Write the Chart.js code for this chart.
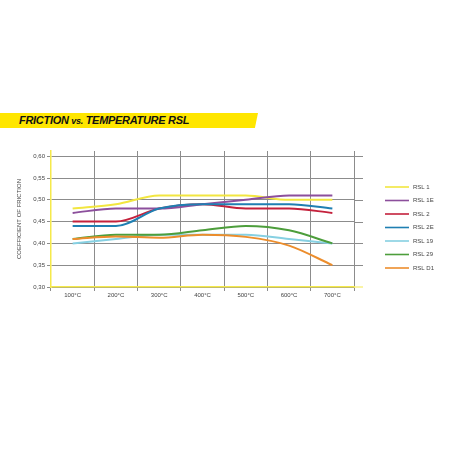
<!DOCTYPE html>
<html>
<head>
<meta charset="utf-8">
<script src="https://cdn.jsdelivr.net/npm/chart.js@4/dist/chart.umd.min.js"></script>
<style>
  html, body { margin: 0; padding: 0; background: #fff; }
  #wrap { position: relative; width: 452px; height: 452px; overflow: hidden; }
  #banner {
    position: absolute; left: 0; top: 113px; width: 258px; height: 15px;
    background: #ffe600;
    clip-path: polygon(0 0, 100% 0, 98.8% 100%, 0 100%);
  }
  #banner span {
    position: absolute; left: 19px; top: 1px;
    font-family: "Liberation Sans", Arial, sans-serif; font-weight: bold; font-style: italic;
    font-size: 11px; color: #111; letter-spacing: -0.3px; white-space: nowrap;
  }
  #banner small { font-size: 9px; }
  canvas { position: absolute; left: 0; top: 0; }
</style>
</head>
<body>
<div id="wrap">
  <div id="banner"><span>FRICTION <small>vs.</small> TEMPERATURE RSL</span></div>
  <canvas id="friction-chart" width="452" height="452"></canvas>
</div>
<script>
// temperatures (x axis)
const temps = ['100°C', '200°C', '300°C', '400°C', '500°C', '600°C', '700°C'];

// coefficient of friction per compound
const rsl1  = [0.48, 0.49, 0.51, 0.51, 0.51, 0.50, 0.50];
const rsl1e = [0.47, 0.48, 0.48, 0.49, 0.50, 0.51, 0.51];
const rsl2  = [0.45, 0.45, 0.48, 0.49, 0.48, 0.48, 0.47];
const rsl2e = [0.44, 0.44, 0.48, 0.49, 0.49, 0.49, 0.48];
const rsl19 = [0.40, 0.41, 0.42, 0.42, 0.42, 0.41, 0.40];
const rsl29 = [0.41, 0.42, 0.42, 0.43, 0.44, 0.43, 0.40];
const rslD1 = [0.41, 0.416, 0.413, 0.42, 0.415, 0.395, 0.35];

const seriesNames = ['RSL 1', 'RSL 1E', 'RSL 2', 'RSL 2E', 'RSL 19', 'RSL 29', 'RSL D1'];
const seriesColors = ['#f2e640', '#8c4f9c', '#c4213c', '#1f7fb2', '#86d0e2', '#4d9e3c', '#ec8d2c'];
const seriesData = [rsl1, rsl1e, rsl2, rsl2e, rsl19, rsl29, rslD1];

const FONT = '"Liberation Sans", Arial, sans-serif';

// draw order: bottom series first so the upper lines sit on top like the picture
const drawOrder = [6, 4, 5, 3, 2, 1, 0];

// legend on the right, drawn from the dataset list
const sideLegend = {
  id: 'sideLegend',
  afterDraw(chart) {
    const ctx = chart.ctx;
    ctx.save();
    ctx.font = '6px ' + FONT;
    ctx.textBaseline = 'middle';
    chart.data.datasets.forEach((ds, i) => {
      const y = 187 + i * 13.5;
      ctx.strokeStyle = ds.borderColor;
      ctx.lineWidth = 1.6;
      ctx.beginPath();
      ctx.moveTo(385, y);
      ctx.lineTo(409, y);
      ctx.stroke();
      ctx.fillStyle = '#444';
      ctx.fillText(ds.label, 413, y);
    });
    ctx.restore();
  }
};

// horizontal grid lines run a little past the last vertical line
const gridExtend = {
  id: 'gridExtend',
  beforeDatasetsDraw(chart) {
    const ctx = chart.ctx;
    const yScale = chart.scales.y;
    const right = chart.chartArea.right;
    ctx.save();
    ctx.strokeStyle = '#8c8c8c';
    ctx.lineWidth = 1;
    yScale.ticks.forEach((t, i) => {
      if (i === 0) return;
      const y = Math.round(yScale.getPixelForValue(t.value)) + 0.5;
      ctx.beginPath();
      ctx.moveTo(right, y);
      ctx.lineTo(right + 9, y);
      ctx.stroke();
    });
    // yellow baseline continues too
    const yb = chart.chartArea.bottom;
    ctx.strokeStyle = '#f5e94a';
    ctx.beginPath();
    ctx.moveTo(right, yb);
    ctx.lineTo(right + 9, yb);
    ctx.stroke();
    ctx.restore();
  }
};

const ctx = document.getElementById('friction-chart').getContext('2d');
new Chart(ctx, {
  type: 'line',
  data: {
    labels: temps,
    datasets: seriesNames.map((name, i) => ({
      label: name,
      data: seriesData[i],
      borderColor: seriesColors[i],
      backgroundColor: seriesColors[i],
      borderWidth: 2,
      pointRadius: 0,
      cubicInterpolationMode: 'monotone',
      order: drawOrder[i]
    }))
  },
  options: {
    responsive: false,
    animation: false,
    layout: { padding: { left: 0, top: 151, right: 98, bottom: 145 } },
    plugins: {
      legend: { display: false },
      tooltip: { enabled: false }
    },
    scales: {
      x: {
        offset: true,
        grid: { offset: true, color: '#8c8c8c', lineWidth: 1, tickLength: 4 },
        border: { color: '#f5e94a', width: 1.5 },
        ticks: { font: { family: FONT, size: 6 }, color: '#444', padding: 1, maxRotation: 0 },
        afterFit(scale) { scale.height = 20; }
      },
      y: {
        min: 0.30,
        max: 0.612,
        grid: { color: '#8c8c8c', lineWidth: 1, tickLength: 4 },
        border: { color: '#f5e94a', width: 1.5 },
        ticks: {
          stepSize: 0.05,
          includeBounds: false,
          font: { family: FONT, size: 6 },
          color: '#444',
          padding: 2,
          callback: v => v.toFixed(2).replace('.', ',')
        },
        title: {
          display: true,
          text: 'COEFFICIENT OF FRICTION',
          font: { family: FONT, size: 6 },
          color: '#444',
          padding: { top: 16, bottom: 0 }
        },
        afterFit(scale) { scale.width = 51; }
      }
    }
  },
  plugins: [gridExtend, sideLegend]
});
</script>
</body>
</html>
